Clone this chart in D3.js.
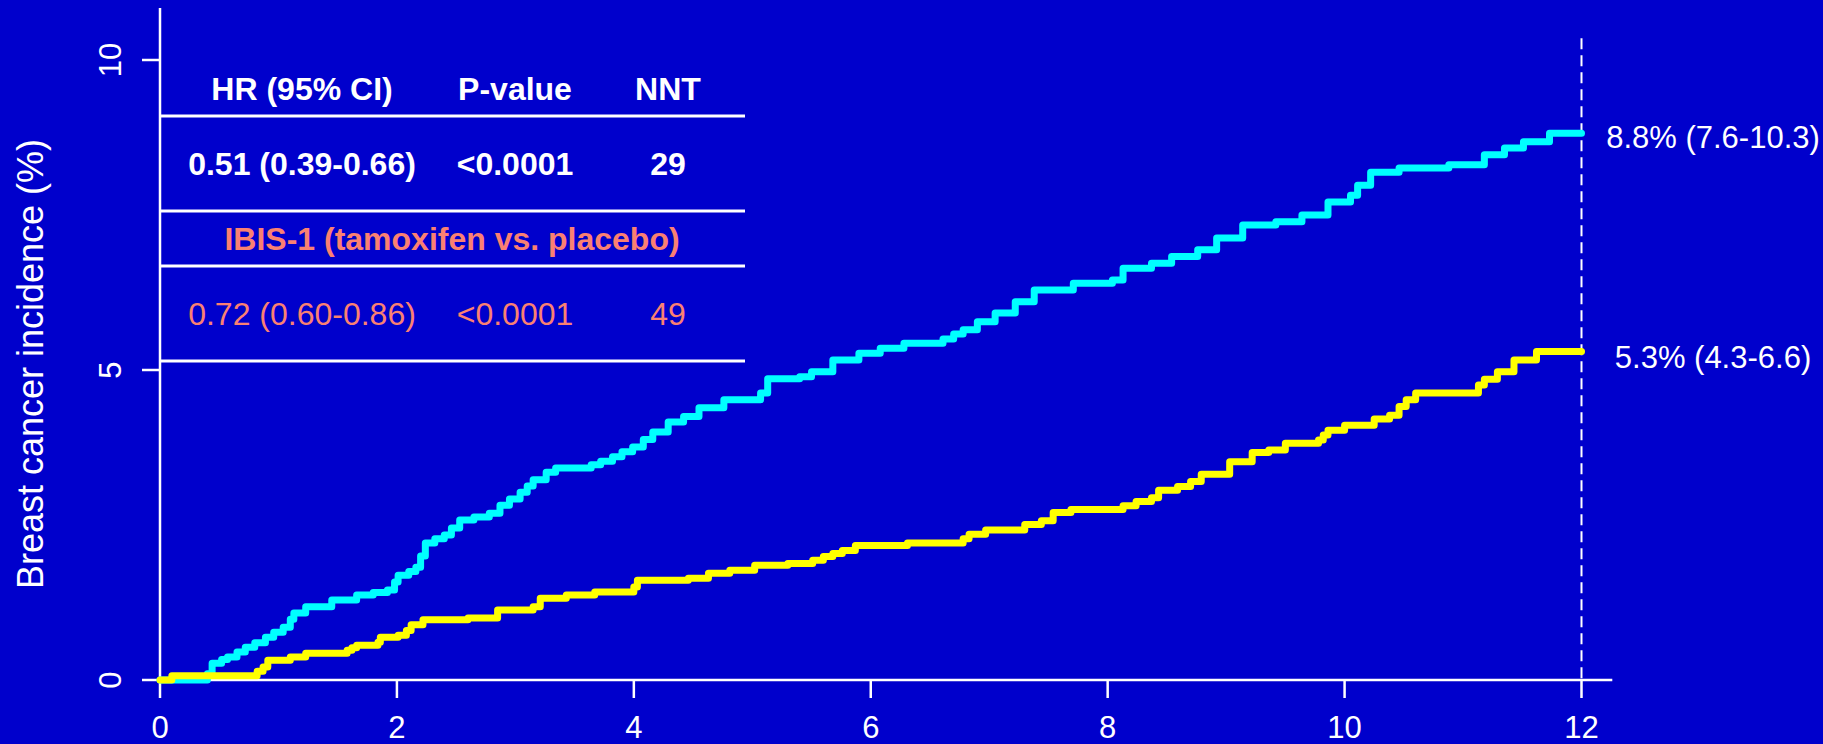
<!DOCTYPE html>
<html>
<head>
<meta charset="utf-8">
<script src="https://cdn.jsdelivr.net/npm/d3@7"></script>
<style>
  html, body { margin: 0; padding: 0; background: #0000cc; }
  svg { display: block; font-family: "Liberation Sans", Arial, sans-serif; }
</style>
</head>
<body>
<div id="chart"></div>
<script>
// cumulative incidence, upper (cyan) curve
var placeboYears = [0, 0.40, 0.44, 0.52, 0.57, 0.65, 0.72, 0.80, 0.89, 0.96, 1.04, 1.10, 1.13, 1.23, 1.45, 1.66, 1.80, 1.92,
  1.98, 2.01, 2.10, 2.16, 2.20, 2.24, 2.32, 2.40, 2.46, 2.53, 2.65, 2.78, 2.87, 2.95, 3.04, 3.10, 3.15, 3.26, 3.34,
  3.64, 3.72, 3.82, 3.90, 3.99, 4.08, 4.16, 4.29, 4.42, 4.55, 4.76, 5.07, 5.13, 5.40, 5.50, 5.68, 5.90, 6.08, 6.28,
  6.61, 6.70, 6.78, 6.90, 7.05, 7.22, 7.38, 7.71, 8.04, 8.13, 8.37, 8.54, 8.76, 8.92, 9.14, 9.42, 9.64, 9.86, 10.05,
  10.11, 10.22, 10.46, 10.88, 11.18, 11.35, 11.51, 11.73, 12.0];
var placeboPct = [0, 0.10, 0.27, 0.33, 0.37, 0.45, 0.53, 0.60, 0.69, 0.77, 0.85, 0.98, 1.08, 1.18, 1.29, 1.37, 1.41, 1.45,
  1.58, 1.69, 1.75, 1.82, 2.00, 2.21, 2.28, 2.34, 2.45, 2.58, 2.63, 2.69, 2.82, 2.92, 3.03, 3.13, 3.23, 3.35, 3.42,
  3.47, 3.53, 3.60, 3.68, 3.76, 3.88, 4.00, 4.16, 4.25, 4.39, 4.52, 4.63, 4.86, 4.89, 4.97, 5.16, 5.27, 5.35, 5.43,
  5.50, 5.58, 5.65, 5.78, 5.92, 6.10, 6.29, 6.40, 6.45, 6.64, 6.72, 6.83, 6.94, 7.13, 7.34, 7.39, 7.50, 7.71, 7.82,
  7.98, 8.19, 8.26, 8.31, 8.47, 8.58, 8.68, 8.82, 8.82];

// lower (yellow) curve
var treatedYears = [0, 0.10, 0.82, 0.87, 0.91, 1.10, 1.23, 1.58, 1.62, 1.66, 1.84, 1.86, 2.01, 2.08, 2.12, 2.22, 2.60, 2.85,
  3.15, 3.21, 3.43, 3.67, 4.00, 4.03, 4.46, 4.63, 4.81, 5.02, 5.30, 5.51, 5.60, 5.68, 5.76, 5.87, 6.31, 6.78, 6.83,
  6.97, 7.30, 7.44, 7.54, 7.69, 8.13, 8.24, 8.37, 8.43, 8.59, 8.70, 8.79, 9.03, 9.22, 9.36, 9.50, 9.78, 9.82, 9.86,
  10.00, 10.25, 10.38, 10.46, 10.52, 10.60, 11.13, 11.18, 11.29, 11.43, 11.62, 12.0];
var treatedPct = [0, 0.07, 0.14, 0.21, 0.32, 0.37, 0.43, 0.48, 0.52, 0.56, 0.61, 0.69, 0.72, 0.80, 0.89, 0.97, 1.00, 1.13,
  1.18, 1.32, 1.37, 1.42, 1.50, 1.61, 1.64, 1.72, 1.77, 1.85, 1.88, 1.93, 1.99, 2.04, 2.09, 2.17, 2.21, 2.28, 2.35,
  2.42, 2.51, 2.57, 2.70, 2.75, 2.81, 2.88, 2.94, 3.06, 3.12, 3.20, 3.32, 3.52, 3.67, 3.71, 3.82, 3.87, 3.95, 4.03,
  4.11, 4.21, 4.27, 4.41, 4.52, 4.63, 4.76, 4.85, 4.97, 5.16, 5.30, 5.30];

var xTicks = [0, 2, 4, 6, 8, 10, 12];
var yTicks = [0, 5, 10];
var endLabels = ["8.8% (7.6-10.3)", "5.3% (4.3-6.6)"];
var endLabelPct = [8.75, 5.2];

var tableHeader = ["HR (95% CI)", "P-value", "NNT"];
var tableMain = ["0.51 (0.39-0.66)", "<0.0001", "29"];
var tableTitle = "IBIS-1 (tamoxifen vs. placebo)";
var tableIbis = ["0.72 (0.60-0.86)", "<0.0001", "49"];

var W = 1823, H = 744;
var bg = "#0000cc", salmon = "#fa8072";

var svg = d3.select("#chart").append("svg")
    .attr("width", W)
    .attr("height", H);

svg.append("rect").attr("width", W).attr("height", H).attr("fill", bg);

var x = d3.scaleLinear().domain([0, 12]).range([160, 1581.5]);
var y = d3.scaleLinear().domain([0, 10]).range([680, 60]);

/* axes */
var axisG = svg.append("g").attr("stroke", "#fff").attr("stroke-width", 2.5);
axisG.append("line")
    .attr("x1", x(0)).attr("x2", x(12.26))
    .attr("y1", y(0)).attr("y2", y(0));
axisG.append("line")
    .attr("x1", x(0)).attr("x2", x(0))
    .attr("y1", y(0)).attr("y2", y(10.84));

axisG.selectAll(".xt").data(xTicks).enter().append("line")
    .attr("x1", function(d) { return x(d); })
    .attr("x2", function(d) { return x(d); })
    .attr("y1", y(0)).attr("y2", y(0) + 18);
axisG.selectAll(".yt").data(yTicks).enter().append("line")
    .attr("x1", x(0) - 18).attr("x2", x(0))
    .attr("y1", function(d) { return y(d); })
    .attr("y2", function(d) { return y(d); });

svg.selectAll(".xl").data(xTicks).enter().append("text")
    .attr("x", function(d) { return x(d); })
    .attr("y", 727)
    .attr("dy", "0.35em")
    .attr("text-anchor", "middle")
    .attr("fill", "#fff")
    .style("font-size", "31px")
    .text(function(d) { return d; });

svg.selectAll(".yl").data(yTicks).enter().append("text")
    .attr("transform", function(d) { return "translate(110," + y(d) + ") rotate(-90)"; })
    .attr("dy", "0.35em")
    .attr("text-anchor", "middle")
    .attr("fill", "#fff")
    .style("font-size", "31px")
    .text(function(d) { return d; });

svg.append("text")
    .attr("transform", "translate(30,364) rotate(-90)")
    .attr("dy", "0.35em")
    .attr("text-anchor", "middle")
    .attr("fill", "#fff")
    .style("font-size", "36px")
    .text("Breast cancer incidence (%)");

/* dashed line at 12 years */
svg.append("line")
    .attr("x1", x(12)).attr("x2", x(12))
    .attr("y1", y(10.35)).attr("y2", y(0))
    .attr("stroke", "#fff")
    .attr("stroke-width", 2)
    .attr("stroke-dasharray", "11,6");

/* curves */
var line = d3.line()
    .x(function(d) { return x(d[0]); })
    .y(function(d) { return y(d[1]); })
    .curve(d3.curveStepAfter);

svg.append("path")
    .datum(d3.zip(placeboYears, placeboPct))
    .attr("d", line)
    .attr("fill", "none")
    .attr("stroke", "#00ffff")
    .attr("stroke-width", 7)
    .attr("stroke-linejoin", "round")
    .attr("stroke-linecap", "round");

svg.append("path")
    .datum(d3.zip(treatedYears, treatedPct))
    .attr("d", line)
    .attr("fill", "none")
    .attr("stroke", "#ffff00")
    .attr("stroke-width", 7)
    .attr("stroke-linejoin", "round")
    .attr("stroke-linecap", "round");

svg.selectAll(".end").data(endLabels).enter().append("text")
    .attr("x", 1713)
    .attr("y", function(d, i) { return y(endLabelPct[i]); })
    .attr("dy", "0.35em")
    .attr("text-anchor", "middle")
    .attr("fill", "#fff")
    .style("font-size", "31px")
    .text(function(d) { return d; });

/* table */
var colX = [302, 515, 668];
var ruleY = [116, 211, 266, 361];

svg.selectAll(".rule").data(ruleY).enter().append("line")
    .attr("x1", x(0)).attr("x2", 745)
    .attr("y1", function(d) { return d; })
    .attr("y2", function(d) { return d; })
    .attr("stroke", "#fff")
    .attr("stroke-width", 3);

function tableRow(cells, baseline, color, weight) {
    svg.append("g").selectAll("text").data(cells).enter().append("text")
        .attr("x", function(d, i) { return colX[i]; })
        .attr("y", baseline)
        .attr("text-anchor", "middle")
        .attr("fill", color)
        .style("font-size", "32px")
        .style("font-weight", weight)
        .text(function(d) { return d; });
}

tableRow(tableHeader, 100, "#fff", "bold");
tableRow(tableMain, 175, "#fff", "bold");
tableRow(tableIbis, 325, salmon, "normal");

svg.append("text")
    .attr("x", 452)
    .attr("y", 250)
    .attr("text-anchor", "middle")
    .attr("fill", salmon)
    .style("font-size", "32px")
    .style("font-weight", "bold")
    .text(tableTitle);
</script>
</body>
</html>
